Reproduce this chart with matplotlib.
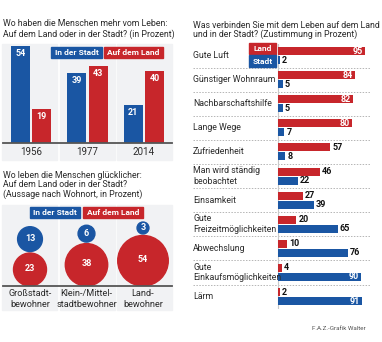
import matplotlib.pyplot as plt
from matplotlib.patches import Rectangle, Circle
import numpy as np

plt.rcParams['font.family'] = ['Roboto', 'DejaVu Sans']

BLUE = '#1a56a3'
RED = '#c7262b'
GREY_BG = '#f1f2f4'
TXT = '#2b2b2b'
FS = 6.3

# oben links: mehr vom Leben
years = ['1956', '1977', '2014']
stadt_leben = [54, 39, 21]
land_leben = [19, 43, 40]

# unten links: gluecklicher nach Wohnort
wohnort = ['Großstadt-\nbewohner', 'Klein-/Mittel-\nstadtbewohner', 'Land-\nbewohner']
stadt_glueck = [13, 6, 3]
land_glueck = [23, 38, 54]

# rechts: Zustimmung
merkmale = ['Gute Luft', 'Günstiger Wohnraum', 'Nachbarschaftshilfe', 'Lange Wege',
            'Zufriedenheit', 'Man wird ständig\nbeobachtet', 'Einsamkeit',
            'Gute\nFreizeitmöglichkeiten', 'Abwechslung', 'Gute\nEinkaufsmöglichkeiten', 'Lärm']
land_merk = [95, 84, 82, 80, 57, 46, 27, 20, 10, 4, 2]
stadt_merk = [2, 5, 5, 7, 8, 22, 39, 65, 76, 90, 91]

W, H = 382, 342
fig = plt.figure(figsize=(W / 100, H / 100), dpi=100)
fig.patch.set_facecolor('white')


def fx(x):
    return x / W


def fy(y):
    return 1 - y / H


def axes_px(x0, y0, x1, y1):
    # y0 = top, y1 = bottom in pixels from the top edge
    ax = fig.add_axes([fx(x0), fy(y1), fx(x1) - fx(x0), (y1 - y0) / H])
    ax.set_axis_off()
    ax.set_zorder(2)
    return ax


def label_box(xc, yc, w, h, txt, color, size=6.0):
    fig.patches.append(Rectangle((fx(xc - w / 2), fy(yc + h / 2)), w / W, h / H,
                                 transform=fig.transFigure, color=color, zorder=3))
    fig.text(fx(xc), fy(yc), txt, color='white', fontsize=size, fontweight='bold',
             ha='center', va='center', zorder=4)


# helle Hintergrundspalten links
for x0, x1 in [(2, 57), (60, 115), (117, 172)]:
    for y0, y1 in [(44, 160), (205, 310)]:
        fig.patches.append(Rectangle((fx(x0), fy(y1)), (x1 - x0) / W, (y1 - y0) / H,
                                     transform=fig.transFigure, color=GREY_BG, zorder=-1))

# ---- Balken oben links
fig.text(fx(3), fy(24), 'Wo haben die Menschen mehr vom Leben:', fontsize=FS, color=TXT, va='center')
fig.text(fx(3), fy(34.5), 'Auf dem Land oder in der Stadt? (in Prozent)', fontsize=FS, color=TXT, va='center')

pxu = 1.8
pitch = 56.5
ax1 = axes_px(0, 40, 175, 143)
ax1.set_xlim(-31 / pitch, (175 - 31) / pitch)
ax1.set_ylim(0, 103 / pxu)
x = np.arange(len(years))
bw = 19 / pitch
off = 10.7 / pitch
b1 = ax1.bar(x - off, stadt_leben, bw, color=BLUE, zorder=2)
b2 = ax1.bar(x + off, land_leben, bw, color=RED, zorder=2)
for bars, vals in [(b1, stadt_leben), (b2, land_leben)]:
    for r, v in zip(bars, vals):
        ax1.annotate(str(v), (r.get_x() + r.get_width() / 2, v), xytext=(0, -3),
                     textcoords='offset pixels', ha='center', va='top', color='white',
                     fontsize=6.5, fontweight='bold')
ax1.plot([-28 / pitch, 141 / pitch], [0, 0], color='#555555', lw=1.3, clip_on=False, zorder=3)
for i, yr in enumerate(years):
    ax1.annotate(yr, (i, 0), xytext=(0, -9), textcoords='offset pixels', ha='center',
                 va='center', fontsize=7, color=TXT)
label_box(76.5, 52.5, 51, 11, 'In der Stadt', BLUE)
label_box(133.5, 52.5, 59, 11, 'Auf dem Land', RED)

# ---- Kreise unten links
fig.text(fx(3), fy(175), 'Wo leben die Menschen glücklicher:', fontsize=FS, color=TXT, va='center')
fig.text(fx(3), fy(184.7), 'Auf dem Land oder in der Stadt?', fontsize=FS, color=TXT, va='center')
fig.text(fx(3), fy(194.5), '(Aussage nach Wohnort, in Prozent)', fontsize=FS, color=TXT, va='center')
label_box(55, 212.7, 50, 11, 'In der Stadt', BLUE)
label_box(113, 212.7, 60, 11, 'Auf dem Land', RED)

ax2 = axes_px(0, 200, 175, 286)
ax2.set_xlim(0, 175)
ax2.set_ylim(0, 86)
k = 3.44
for i, (s, l) in enumerate(zip(stadt_glueck, land_glueck)):
    cx = 30 + i * pitch
    rl = k * np.sqrt(l)
    rs = k * np.sqrt(s)
    cs = 2 * rl + 1.5 + rs
    ax2.add_patch(Circle((cx, rl), rl, color=RED, zorder=2))
    ax2.add_patch(Circle((cx, cs), rs, color=BLUE, zorder=2))
    ax2.text(cx, rl + 1, str(l), ha='center', va='center', color='white', fontsize=6.5, fontweight='bold')
    ax2.text(cx, cs + 0.5, str(s), ha='center', va='center', color='white', fontsize=6.5, fontweight='bold')
    ax2.text(cx, -3.5, wohnort[i], ha='center', va='top', fontsize=FS + 0.3, color=TXT, linespacing=1.25)
ax2.plot([3, 172], [0, 0], color='#555555', lw=1.3, clip_on=False, zorder=3)

# ---- horizontale Balken rechts
fig.text(fx(193), fy(25), 'Was verbinden Sie mit dem Leben auf dem Land', fontsize=FS, color=TXT, va='center')
fig.text(fx(193), fy(34.5), 'und in der Stadt? (Zustimmung in Prozent)', fontsize=FS, color=TXT, va='center')

hu = 0.919
row = 24.1
ax3 = axes_px(193, 43.5, 370, 43.5 + 11 * row)
ax3.set_xlim(-85 / hu, 92 / hu)
ax3.set_ylim(10.5, -0.5)
y = np.arange(len(merkmale))
bh = 8 / row
ax3.barh(y - 4.5 / row, land_merk, bh, color=RED, zorder=2)
ax3.barh(y + 4.5 / row, stadt_merk, bh, color=BLUE, zorder=2)
for yy in np.arange(-0.5, 11, 1):
    ax3.axhline(yy, color='#b5b5b5', lw=0.7, ls=(0, (1.5, 1.5)), zorder=1)
ax3.plot([0, 0], [-0.5, 10.5], color='#c8c8c8', lw=0.8, zorder=1)
for i, (l, s) in enumerate(zip(land_merk, stadt_merk)):
    for v, yy in [(l, i - 4.5 / row), (s, i + 4.5 / row)]:
        if v >= 80:
            ax3.annotate(str(v), (v, yy), xytext=(-2, 0), textcoords='offset pixels', ha='right',
                         va='center', color='white', fontsize=6.5, fontweight='bold')
        else:
            ax3.annotate(str(v), (v, yy), xytext=(2, 0), textcoords='offset pixels', ha='left',
                         va='center', color='#111111', fontsize=6.5, fontweight='bold')
    ax3.text(-85 / hu, i, merkmale[i], ha='left', va='center', fontsize=FS, color=TXT, linespacing=1.25)
label_box(262.5, 48.5, 27, 11, 'Land', RED)
label_box(262.5, 61, 27, 11, 'Stadt', BLUE)

fig.text(fx(366), fy(328), 'F.A.Z.-Grafik Walter', ha='right', va='center', fontsize=4.5, color='#555555')

fig.savefig('out.png', dpi=100)
